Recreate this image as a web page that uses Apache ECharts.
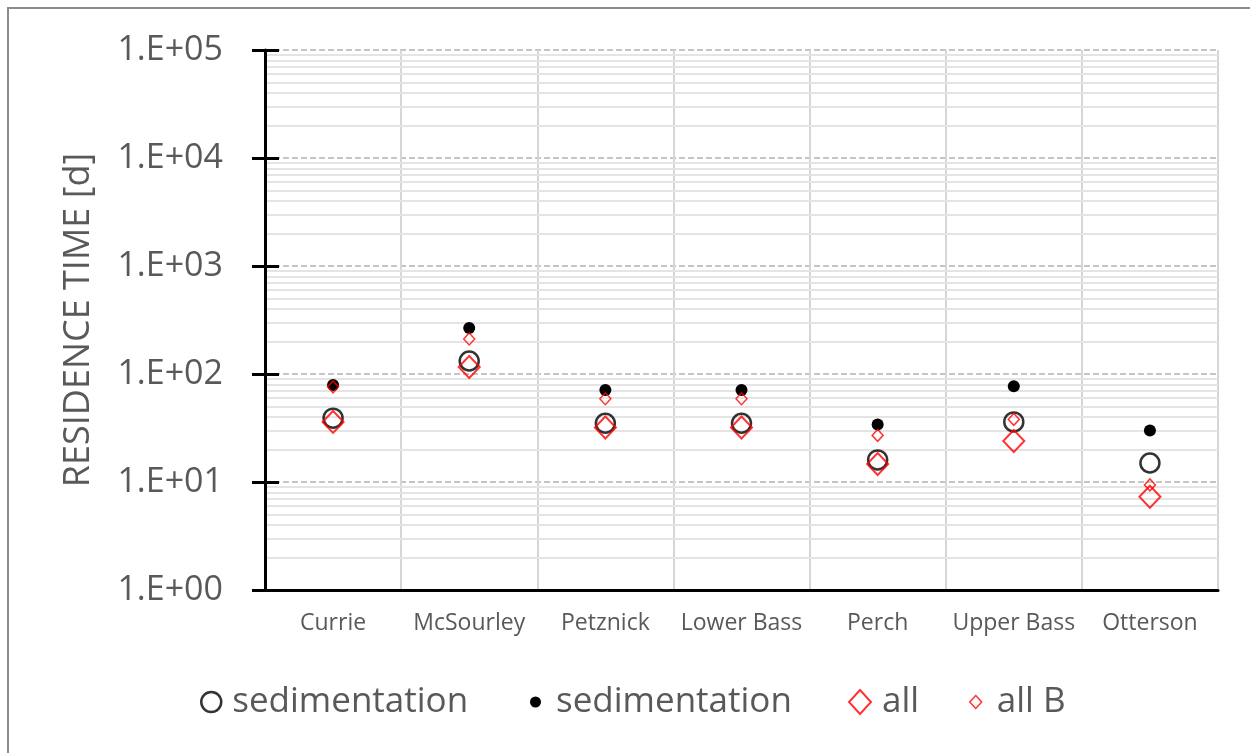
<!DOCTYPE html>
<html>
<head>
<meta charset="utf-8">
<title>Residence time</title>
<script src="https://cdn.jsdelivr.net/npm/echarts@6/dist/echarts.min.js"></script>
<style>
  html, body { margin: 0; padding: 0; background: #fff; }
  #chart { width: 1250px; height: 753px; }
</style>
</head>
<body>
<div id="chart"></div>
<script>
// Lakes along the category axis
const lakes = ['Currie', 'McSourley', 'Petznick', 'Lower Bass', 'Perch', 'Upper Bass', 'Otterson'];

// Residence time in days for each lake
const sedimentationOpen   = [39, 132, 35, 35, 16, 36, 15];
const sedimentationFilled = [79, 267, 71, 71, 34, 77, 30];
const allValues           = [36, 116, 32, 32, 14.7, 24, 7.3];
const allBValues          = [76, 211, 59, 59, 27, 38, 9.4];

// Labels for the decades of the log axis (1 .. 100000)
const yTickLabels = ['1.E+00', '1.E+01', '1.E+02', '1.E+03', '1.E+04', '1.E+05'];

const FONT = '"Open Sans", "Liberation Sans", sans-serif';
const TEXT = '#595959';

// Minor grid lines at 2..9 of every decade
const minorLines = [];
for (let d = 0; d < 5; d++) {
  for (let k = 2; k <= 9; k++) minorLines.push({ yAxis: k * Math.pow(10, d) });
}

const chart = echarts.init(document.getElementById('chart'), null, { renderer: 'canvas' });

const legendBase = {
  orient: 'horizontal',
  top: 677,
  selectedMode: false,
  textStyle: { fontFamily: FONT, fontSize: 35, color: TEXT, lineHeight: 40 }
};

chart.setOption({
  animation: false,
  backgroundColor: '#fff',
  graphic: [{
    type: 'rect',
    shape: { x: 8, y: 8, width: 1300, height: 800 },
    style: { fill: 'none', stroke: '#8c8c8c', lineWidth: 2 },
    z: 100
  }],
  grid: { left: 265, right: 32, top: 50, bottom: 163, containLabel: false },
  xAxis: {
    type: 'category',
    data: lakes,
    boundaryGap: true,
    axisLine: { show: true, lineStyle: { color: '#000', width: 3 } },
    axisTick: { show: false, interval: 0 },
    axisLabel: { interval: 0, fontFamily: FONT, fontSize: 23, color: TEXT, margin: 22 },
    splitLine: { show: true, interval: 0, lineStyle: { color: '#d6d6d6', width: 2 } }
  },
  yAxis: [{
    type: 'log',
    logBase: 10,
    min: 1,
    max: 100000,
    name: 'RESIDENCE TIME [d]',
    nameLocation: 'middle',
    nameGap: 168,
    nameTextStyle: { fontFamily: FONT, fontSize: 36, color: TEXT },
    axisLine: { show: true, lineStyle: { color: '#000', width: 3 } },
    axisTick: { show: true, length: 13, lineStyle: { color: '#000', width: 3 } },
    axisLabel: {
      fontFamily: FONT, fontSize: 34, color: TEXT, margin: 42,
      formatter: v => yTickLabels[Math.round(Math.log10(v))]
    },
    splitLine: { show: true, lineStyle: { color: '#c4c4c4', width: 2, type: [6, 3] } },
    minorTick: { show: false },
    minorSplitLine: { show: false }
  }, {
    // inner half of the major ticks
    type: 'log',
    logBase: 10,
    min: 1,
    max: 100000,
    position: 'left',
    axisLine: { show: false },
    axisTick: { show: true, inside: true, length: 14, lineStyle: { color: '#000', width: 3 } },
    axisLabel: { show: false },
    splitLine: { show: false }
  }],
  legend: [
    Object.assign({}, legendBase, {
      left: 195, itemWidth: 20, itemHeight: 20,
      data: [{ name: 'sedimentation', icon: 'circle',
               itemStyle: { color: 'rgba(0,0,0,0)', borderColor: '#000', borderWidth: 2.5 } }],
      textStyle: Object.assign({}, legendBase.textStyle, { padding: [0, 0, 0, 6] })
    }),
    Object.assign({}, legendBase, {
      left: 525, itemWidth: 11, itemHeight: 11,
      data: [{ name: 'sedimentation ', icon: 'circle', itemStyle: { color: '#000', borderWidth: 0 } }],
      textStyle: Object.assign({}, legendBase.textStyle, { padding: [0, 0, 0, 10] })
    }),
    Object.assign({}, legendBase, {
      left: 843, itemWidth: 22, itemHeight: 24,
      data: [{ name: 'all', icon: 'diamond',
               itemStyle: { color: 'rgba(0,0,0,0)', borderColor: '#ff0000', borderWidth: 2 } }],
      textStyle: Object.assign({}, legendBase.textStyle, { padding: [0, 0, 0, 6] })
    }),
    Object.assign({}, legendBase, {
      left: 964, itemWidth: 12, itemHeight: 13,
      data: [{ name: 'all B', icon: 'diamond',
               itemStyle: { color: 'rgba(0,0,0,0)', borderColor: '#ff0000', borderWidth: 1.5 } }],
      textStyle: Object.assign({}, legendBase.textStyle, { padding: [0, 0, 0, 10] })
    })
  ],
  series: [
    {
      // minor horizontal grid
      type: 'line',
      data: [],
      silent: true,
      z: 0,
      markLine: {
        silent: true,
        z: 0,
        symbol: 'none',
        label: { show: false },
        animation: false,
        lineStyle: { color: '#e4e4e4', width: 2, type: 'solid' },
        data: minorLines
      }
    },
    {
      name: 'sedimentation',
      type: 'scatter',
      data: sedimentationOpen,
      symbol: 'circle',
      symbolSize: 19,
      itemStyle: { color: 'rgba(0,0,0,0)', borderColor: '#000', borderWidth: 2.5 },
      z: 3
    },
    {
      name: 'sedimentation ',
      type: 'scatter',
      data: sedimentationFilled,
      symbol: 'circle',
      symbolSize: 12,
      itemStyle: { color: '#000', opacity: 1 },
      z: 4
    },
    {
      name: 'all',
      type: 'scatter',
      data: allValues,
      symbol: 'diamond',
      symbolSize: [21, 22],
      itemStyle: { color: 'rgba(0,0,0,0)', borderColor: '#ff0000', borderWidth: 2 },
      z: 5
    },
    {
      name: 'all B',
      type: 'scatter',
      data: allBValues,
      symbol: 'diamond',
      symbolSize: [11, 12],
      itemStyle: { color: 'rgba(0,0,0,0)', borderColor: '#ff0000', borderWidth: 1.5 },
      z: 6
    }
  ]
});
</script>
</body>
</html>
